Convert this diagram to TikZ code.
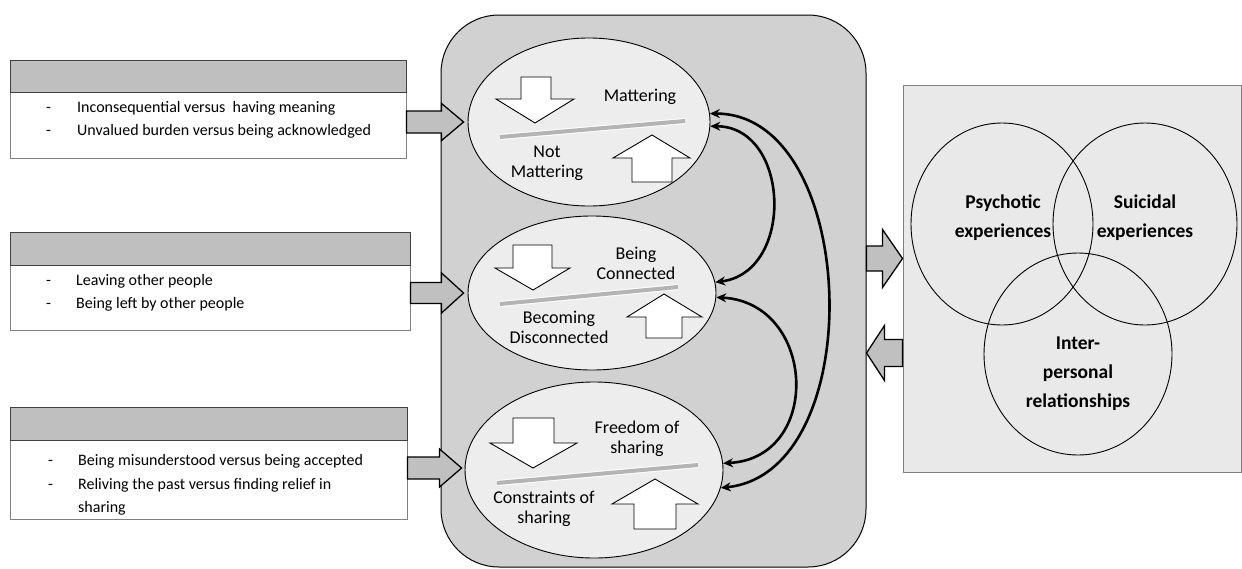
\documentclass[tikz,border=0pt]{standalone}
\usepackage{fontspec}
\setmainfont{Carlito}
\usetikzlibrary{shapes.geometric,arrows.meta,calc}
\definecolor{hdr}{HTML}{BFBFBF}
\definecolor{boxbd}{HTML}{808080}
\definecolor{midbg}{HTML}{D1D1D1}
\definecolor{ellbg}{HTML}{EDEDED}
\definecolor{panelbg}{HTML}{E9E9E9}
\definecolor{fatgray}{HTML}{C0C0C0}
\definecolor{sepgray}{HTML}{B4B4B4}
% right-pointing fat arrow: #1 tail point, #2 tip point, #3 half shaft, #4 half head, #5 head length
\newcommand\fatR[5]{\draw[fatarrow] let \p1=#1, \p2=#2 in
  ({\x1},{\y2+#3}) -- ({\x2-#5},{\y2+#3}) -- ({\x2-#5},{\y2+#4}) -- (\p2) --
  ({\x2-#5},{\y2-#4}) -- ({\x2-#5},{\y2-#3}) -- ({\x1},{\y2-#3}) -- cycle;}
\newcommand\fatL[5]{\draw[fatarrow] let \p1=#1, \p2=#2 in
  ({\x1},{\y2+#3}) -- ({\x2+#5},{\y2+#3}) -- ({\x2+#5},{\y2+#4}) -- (\p2) --
  ({\x2+#5},{\y2-#4}) -- ({\x2+#5},{\y2-#3}) -- ({\x1},{\y2-#3}) -- cycle;}
\begin{document}
\begin{tikzpicture}[x=1pt,y=-1pt,
  lbox/.style={draw=boxbd,line width=0.8pt,fill=white,inner sep=0pt},
  hdrbox/.style={draw=black!75,line width=1pt,fill=hdr,inner sep=0pt},
  ltext/.style={anchor=west,inner sep=0pt,font=\fontsize{16}{23}\selectfont,text height=1.5ex,text depth=.3ex},
  midbox/.style={draw=black,line width=1pt,fill=midbg,rounded corners=58pt,inner sep=0pt},
  ell/.style={ellipse,draw=black,line width=0.9pt,fill=ellbg,inner sep=0pt},
  etext/.style={align=center,inner sep=0pt,font=\fontsize{18}{20}\selectfont},
  whitearrow/.style={fill=white,draw=black,line width=0.9pt,line join=miter},
  fatarrow/.style={fill=fatgray,draw=black,line width=1.3pt,line join=miter},
  sep/.style={draw=white,line width=1pt,double=sepgray,double distance=4pt},
  curv/.style={line width=2.6pt,{Stealth[length=10pt,width=9pt]}-{Stealth[length=10pt,width=9pt]}},
  panel/.style={draw=black!50,line width=1pt,fill=panelbg,inner sep=0pt},
  venn/.style={ellipse,draw=black,line width=0.9pt,inner sep=0pt},
  vtext/.style={align=center,inner sep=0pt,font=\bfseries\fontsize{19.5}{29}\selectfont}]
\fill[white] (0,0) rectangle (1242,568);
\useasboundingbox (0,0) rectangle (1242,568);

% central rounded box
\node[midbox,minimum width=425pt,minimum height=552pt] (mid) at (653.5,291) {};

% left boxes
\node[lbox,minimum width=396pt,minimum height=98pt] (b1) at (208,109) {};
\node[hdrbox,minimum width=396pt,minimum height=32pt,anchor=north] (h1) at (b1.north) {};
\node[ltext] (d11) at (46,110) {-};
\node[ltext] (t11) at (77,110) {Inconsequential versus\ \ having meaning};
\node[ltext] (d12) at (46,133) {-};
\node[ltext] (t12) at (77,133) {Unvalued burden versus being acknowledged};

\node[lbox,minimum width=400pt,minimum height=98pt] (b2) at (210,281) {};
\node[hdrbox,minimum width=400pt,minimum height=33pt,anchor=north] (h2) at (b2.north) {};
\node[ltext] (d21) at (46,283) {-};
\node[ltext] (t21) at (76,283) {Leaving other people};
\node[ltext] (d22) at (46,306) {-};
\node[ltext] (t22) at (76,306) {Being left by other people};

\node[lbox,minimum width=397pt,minimum height=112pt] (b3) at (208.5,463) {};
\node[hdrbox,minimum width=397pt,minimum height=33pt,anchor=north] (h3) at (b3.north) {};
\node[ltext] (d31) at (48,463) {-};
\node[ltext] (t31) at (78,463) {Being misunderstood versus being accepted};
\node[ltext] (d32) at (48,487) {-};
\node[ltext] (t32) at (78,487) {Reliving the past versus finding relief in};
\node[ltext] (t33) at (78,510) {sharing};

% ellipses
\node[ell,minimum width=242pt,minimum height=168pt] (e1) at (589,122) {};
\node[ell,minimum width=248pt,minimum height=154pt] (e2) at (592,293) {};
\node[ell,minimum width=258pt,minimum height=176pt] (e3) at (594,470) {};

% fat arrows into ellipses
\fatR{(b1.east)}{($(e1.west)+(-4,0)$)}{11pt}{18.5pt}{22pt}
\fatR{(b2.east)}{($(e2.west)+(-4,0)$)}{10.5pt}{20pt}{22pt}
\fatR{(b3.east)}{($(e3.west)+(-3,-2)$)}{11pt}{19pt}{22pt}

% ellipse 1 content
\draw[sep] (500,137) -- (685,121);
\draw[whitearrow] (521,77) -- (551,77) -- (551,99) -- (574,99) -- (535,123) -- (496,99) -- (521,99) -- cycle;
\draw[whitearrow] (632,182) -- (672,182) -- (672,158) -- (690,158) -- (652,135) -- (613,158) -- (632,158) -- cycle;
\node[etext] (m1) at (640,97) {Mattering};
\node[etext] (m2) at (547,163) {Not\\Mattering};

% ellipse 2 content
\draw[sep] (500,304) -- (678,287);
\draw[whitearrow] (513,245) -- (552,245) -- (552,268) -- (570,268) -- (533,290) -- (495,268) -- (513,268) -- cycle;
\draw[whitearrow] (646,338) -- (682,338) -- (682,317) -- (702,317) -- (664,294) -- (627,317) -- (646,317) -- cycle;
\node[etext] (c1t) at (636,263) {Being\\Connected};
\node[etext] (c2t) at (559,327.5) {Becoming\\Disconnected};

% ellipse 3 content
\draw[sep] (497,483) -- (698,465);
\draw[whitearrow] (513,418) -- (554,418) -- (554,443) -- (577,443) -- (533,468) -- (490,443) -- (513,443) -- cycle;
\draw[whitearrow] (634,529) -- (676,529) -- (676,504) -- (698,504) -- (655,479) -- (612,504) -- (634,504) -- cycle;
\node[etext] (s1t) at (637,439) {Freedom of\\sharing};
\node[etext] (s2t) at (544,509) {Constraints of\\sharing};

% curved connectors
\draw[curv] (e1.-2) .. controls +(80,0) and +(80,-10) .. (e2.5);
\draw[curv] (e2.-2) .. controls +(100,5) and +(100,-5) .. (e3.3);
\draw[curv] (e1.4) .. controls +(150,0) and +(150,-15) .. (e3.-8);

% right panel
\node[panel,minimum width=338pt,minimum height=387pt] (panel) at (1072,278.5) {};
\node[venn,minimum width=182pt,minimum height=202pt] (v1) at (1002,224) {};
\node[venn,minimum width=184pt,minimum height=202pt] (v2) at (1145,224) {};
\node[venn,minimum width=188pt,minimum height=202pt] (v3) at (1078,354) {};
\node[vtext] (v1t) at (1003,217.5) {Psychotic\\experiences};
\node[vtext] (v2t) at (1145,217.5) {Suicidal\\experiences};
\node[vtext] (v3t) at (1078,373.5) {Inter-\\personal\\relationships};

% arrows between centre and panel
\fatR{(mid.east)}{($(panel.west)+(0,-20)$)}{12.5pt}{29pt}{20pt}
\fatL{(panel.west)}{($(mid.east)+(0,62)$)}{13.5pt}{27.5pt}{18pt}
\end{tikzpicture}
\end{document}
